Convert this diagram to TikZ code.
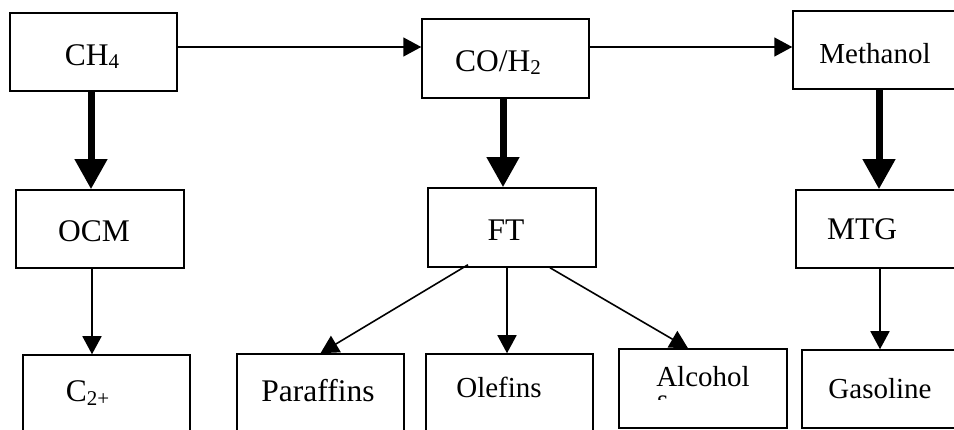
\documentclass[tikz,border=0pt]{standalone}
\usepackage{fontspec}
\setmainfont{Liberation Serif}
\usetikzlibrary{arrows.meta}
\newcommand\bigtxt{\fontsize{31.5}{38}\selectfont}
\newcommand\smalltxt{\fontsize{29}{35}\selectfont}
\newcommand\mysub[2]{\raisebox{#1}{\fontsize{21}{21}\selectfont #2}}
\tikzset{
  box/.style={draw=black, line width=1.5pt, rectangle, inner sep=0pt, fill=white},
  txt/.style={inner sep=0pt, anchor=base, text=black},
  thinarr/.style={draw=black, line width=1.6pt, -{Triangle[width=19pt,length=18pt]}},
  thickarr/.style={draw=black, line width=7pt, -{Triangle[width=31pt,length=30pt]}}
}
\begin{document}
\begin{tikzpicture}[x=1pt,y=-1pt]
\useasboundingbox (0,0) rectangle (954,430);
\clip (0,0) rectangle (954,430);
\fill[white] (0,0) rectangle (954,430);
% boxes
\node[box, minimum width=167pt, minimum height=78pt] (ch4) at (93.5,52) {};
\node[box, minimum width=167pt, minimum height=79pt] (coh) at (505.5,58.5) {};
\node[box, minimum width=164pt, minimum height=78pt] (meth) at (875,50) {};
\node[box, minimum width=168pt, minimum height=78pt] (ocm) at (100,229) {};
\node[box, minimum width=168pt, minimum height=79pt] (ft) at (512,227.5) {};
\node[box, minimum width=168pt, minimum height=78pt] (mtg) at (880,229) {};
\node[box, minimum width=167pt, minimum height=90pt] (c2) at (106.5,400) {};
\node[box, minimum width=167pt, minimum height=91pt] (par) at (320.5,399.5) {};
\node[box, minimum width=167pt, minimum height=91pt] (ole) at (509.5,399.5) {};
\node[box, minimum width=168pt, minimum height=79pt] (alc) at (703,388.5) {};
\node[box, minimum width=168pt, minimum height=78pt] (gas) at (886,389) {};
% texts
\node[txt] (tch4) at (92,66) {\bigtxt CH\mysub{-2.5pt}{4}};
\node[txt] (tcoh) at (498,72) {\bigtxt CO/H\mysub{-2.5pt}{2}};
\node[txt] (tmeth) at (875,64) {\smalltxt Methanol};
\node[txt] (tocm) at (94,242) {\bigtxt OCM};
\node[txt] (tft) at (506,241) {\bigtxt FT};
\node[txt] (tmtg) at (862,240) {\bigtxt MTG};
\node[txt] (tc2) at (87.5,402) {\bigtxt C\mysub{-4pt}{2+}};
\node[txt] (tpar) at (318,402) {\bigtxt Paraffins};
\node[txt] (tole) at (499,398) {\smalltxt Olefins};
\node[txt] (talc) at (703,387) {\smalltxt Alcohol};
\node[txt] (tgas) at (880,399) {\smalltxt Gasoline};
\begin{scope}
\clip (alc.north west) rectangle (787,400);
\node[inner sep=0pt, anchor=base west] (talcs) at (657,410) {\smalltxt\smash{s}};
\end{scope}
% connectors
\coordinate (row1) at (0,47);
\draw[thinarr] (ch4.east |- row1) -- (coh.west |- row1);
\draw[thinarr] (coh.east |- row1) -- (meth.west |- row1);
\draw[thickarr] ([xshift=-2.5pt]ch4.south) -- ([xshift=-2.5pt]ch4.south |- ocm.north);
\draw[thickarr] ([xshift=-2.5pt]coh.south) -- ([xshift=-2.5pt]coh.south |- ft.north);
\draw[thickarr] ([xshift=4pt]meth.south) -- ([xshift=4pt]meth.south |- mtg.north);
\draw[thinarr] ([xshift=-8pt]ocm.south) -- ([xshift=-8pt]ocm.south |- c2.north);
\draw[thinarr] ([xshift=-44pt,yshift=3pt]ft.south) -- (par.north);
\draw[thinarr] ([xshift=-5pt]ft.south) -- ([xshift=-5pt]ft.south |- ole.north);
\draw[thinarr] ([xshift=38pt]ft.south) -- ([xshift=-15pt]alc.north);
\draw[thinarr] (mtg.south) -- (mtg.south |- gas.north);
\end{tikzpicture}
\end{document}
